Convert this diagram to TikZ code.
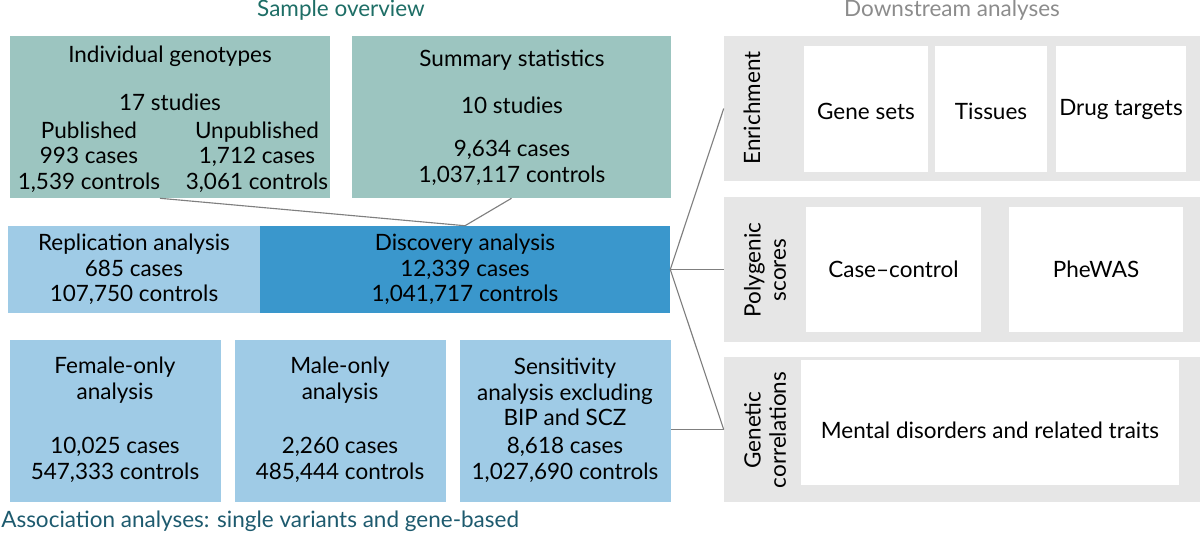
\documentclass[tikz,border=0pt]{standalone}
\usepackage{fontspec}
\setmainfont{Lato}
\usetikzlibrary{positioning,fit}

\definecolor{tealfill}{HTML}{9CC5C0}
\definecolor{lightblue}{HTML}{9FCBE6}
\definecolor{darkblue}{HTML}{3A97CC}
\definecolor{panelgray}{HTML}{E6E6E6}
\definecolor{tealtext}{HTML}{1E6E66}
\definecolor{assoctext}{HTML}{1D5A6E}
\definecolor{headgray}{HTML}{8C8C8C}
\definecolor{linkgray}{HTML}{7F7F7F}

\tikzset{
  box/.style={inner sep=0pt, draw=none},
  txt/.style={inner sep=0pt, align=center, font=\fontsize{16}{18}\selectfont},
  head/.style={txt, font=\fontsize{16}{18}\selectfont},
  link/.style={draw=linkgray, line width=0.8pt}
}

\begin{document}
\begin{tikzpicture}[x=0.025cm, y=-0.025cm]
\useasboundingbox (0,0) rectangle (1200,534);
% headings
\node[head, text=tealtext] (samplehead) at (341,10) {Sample overview};
\node[head, text=headgray] (downhead) at (952,10) {Downstream analyses};
\node[head, text=assoctext, anchor=west] (assochead) at (1,521) {Association analyses: single variants and gene-based};

% sample overview
\node[box, fill=tealfill, fit={(10,36) (330,198)}] (indiv) {};
\node[box, fill=tealfill, fit={(352,36) (671,198)}] (summ) {};
\node[txt] at (170,56) {Individual genotypes};
\node[txt] at (170,102) {17 studies};
\node[txt] at (89,157) {Published\\993 cases\\1,539 controls};
\node[txt] at (257,157) {Unpublished\\1,712 cases\\3,061 controls};
\node[txt] at (512,60) {Summary statistics};
\node[txt] at (512,105) {10 studies};
\node[txt] at (512,163) {9,634 cases\\1,037,117 controls};

% discovery and replication
\node[box, fill=lightblue, fit={(8,226) (260,313)}] (repl) {};
\node[box, fill=darkblue, fit={(260,226) (670,313)}] (disc) {};
\node[txt] at (repl.center) {Replication analysis\\685 cases\\107,750 controls};
\node[txt] at (disc.center) {Discovery analysis\\12,339 cases\\1,041,717 controls};

% association analyses
\node[box, fill=lightblue, fit={(10,340) (221,502)}] (female) {};
\node[box, fill=lightblue, fit={(235,340) (446,502)}] (male) {};
\node[box, fill=lightblue, fit={(460,340) (671,502)}] (sens) {};
\node[txt] at (115,380) {Female-only\\analysis};
\node[txt] at (115,460) {10,025 cases\\547,333 controls};
\node[txt] at (340,380) {Male-only\\analysis};
\node[txt] at (340,460) {2,260 cases\\485,444 controls};
\node[txt] at (565,392) {Sensitivity\\analysis excluding\\BIP and SCZ};
\node[txt] at (565,460) {8,618 cases\\1,027,690 controls};

% downstream analyses
\node[box, fill=panelgray, fit={(724,36) (1200,181)}] (enrich) {};
\node[box, fill=panelgray, fit={(724,197) (1200,342)}] (poly) {};
\node[box, fill=panelgray, fit={(724,357) (1200,502)}] (genet) {};
\node[txt, rotate=90] at (752,108) {Enrichment};
\node[txt, rotate=90] at (765,270) {Polygenic\\scores};
\node[txt, rotate=90] at (765,430) {Genetic\\correlations};
\node[box, fill=white, fit={(804,46) (928,172)}] (genesets) {};
\node[box, fill=white, fit={(935,46) (1047,172)}] (tissues) {};
\node[box, fill=white, fit={(1056,46) (1186,172)}] (drugs) {};
\node[box, fill=white, fit={(806,207) (981,332)}] (casectrl) {};
\node[box, fill=white, fit={(1009,207) (1183,332)}] (phewas) {};
\node[box, fill=white, fit={(801,360) (1179,485)}] (mental) {};
\node[txt] at ([yshift=-0.05cm]genesets.center) {Gene sets};
\node[txt] at ([yshift=-0.05cm]tissues.center) {Tissues};
\node[txt] at (drugs.center) {Drug targets};
\node[txt] at (casectrl.center) {Case–control};
\node[txt] at (phewas.center) {PheWAS};
\node[txt] at ([yshift=-0.2cm]mental.center) {Mental disorders and related traits};

% connectors
\draw[link] ([xshift=-0.25cm]indiv.south) -- (disc.north) -- (summ.south);
\draw[link] (enrich.west) -- (disc.east) -- (genet.west);
\draw[link] (disc.east) -- (poly.west);
\draw[link] (sens.east |- genet.west) -- (genet.west);
\end{tikzpicture}
\end{document}
